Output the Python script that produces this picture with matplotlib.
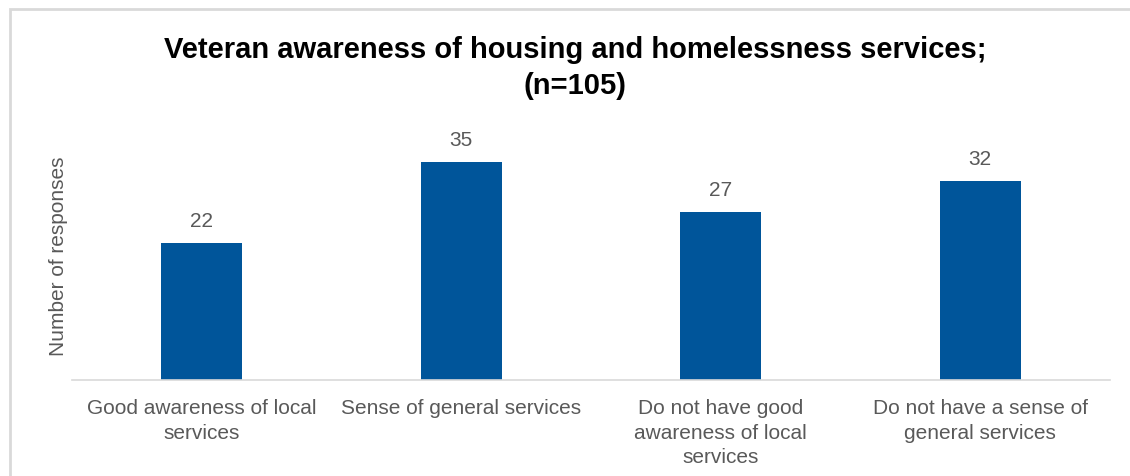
import matplotlib.pyplot as plt
from matplotlib.patches import Rectangle

plt.rcParams['font.family'] = ['Liberation Sans', 'DejaVu Sans']

# Survey responses (n=105)
categories = ["Good awareness of local\nservices",
              "Sense of general services",
              "Do not have good\nawareness of local\nservices",
              "Do not have a sense of\ngeneral services"]
responses = [22, 35, 27, 32]

grey = '#595959'
blue = '#00559A'

fig = plt.figure(figsize=(11.3, 4.77), dpi=100)
ax = fig.add_axes([72/1130, (477-381)/477, 1038/1130, 249/477])

x = range(len(categories))
bars = ax.bar(x, responses, width=0.312, color=blue, zorder=2)
for b, v in zip(bars, responses):
    ax.text(b.get_x() + b.get_width()/2, v + 2.1, str(v), ha='center',
            va='bottom', fontsize=15, color=grey)

ax.set_xlim(-0.5, 3.5)
ax.set_ylim(0, 40)
ax.set_xticks(list(x))
ax.set_xticklabels(categories, fontsize=15, color=grey, linespacing=1.38)
ax.tick_params(axis='x', length=0, pad=13)
ax.set_yticks([])
for s in ['top', 'right', 'left']:
    ax.spines[s].set_visible(False)
ax.spines['bottom'].set_color('#d9d9d9')
ax.spines['bottom'].set_linewidth(1.2)

fig.text(58/1130, 1 - 256/477, 'Number of responses', rotation=90,
         ha='center', va='center', fontsize=15, color=grey)

fig.text(575/1130, 1 - 68/477,
         'Veteran awareness of housing and homelessness services;\n(n=105)',
         ha='center', va='center', fontsize=21, fontweight='bold',
         color='black', linespacing=1.38)

# light frame around the chart area
fig.patches.append(Rectangle((10/1130, -0.1), 1.2, 1 - 10/477 + 0.1,
                             transform=fig.transFigure, fill=False,
                             edgecolor='#d9d9d9', linewidth=2))

fig.savefig('out.png', dpi=100)
